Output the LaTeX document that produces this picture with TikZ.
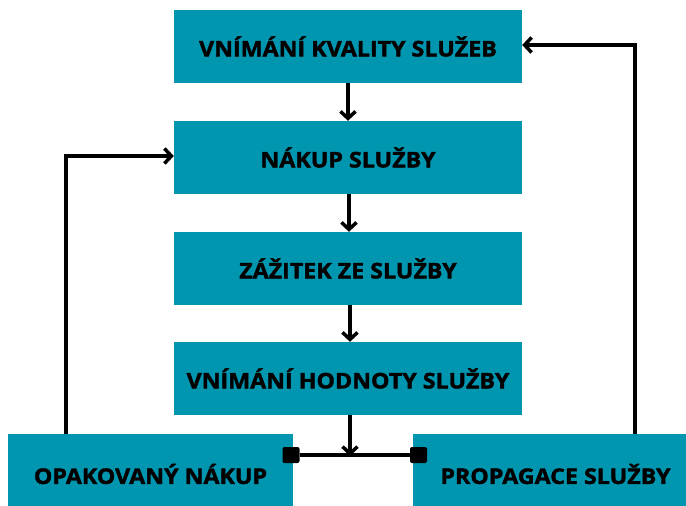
\documentclass[tikz,border=0pt]{standalone}
\usepackage{fontspec}
\setmainfont{Open Sans}[BoldFeatures={FakeBold=1.8, FakeStretch=1.08}]
\usetikzlibrary{arrows.meta}
\definecolor{boxteal}{HTML}{0096B0}
\tikzset{
  stage/.style={rectangle, fill=boxteal, minimum width=348pt, minimum height=73pt,
    inner sep=0pt, font=\fontsize{21.5}{26}\selectfont\bfseries, text=black},
  footbox/.style={stage, minimum width=285pt, minimum height=80pt},
  flow/.style={line width=3.5pt, -{Straight Barb[length=7pt,width=15pt]}},
  link/.style={line width=3.5pt},
  joint/.style={rectangle, fill=black, minimum width=17pt, minimum height=16pt,
    inner sep=0pt, rounded corners=2pt}
}
\begin{document}
\begin{tikzpicture}[x=1pt,y=-1pt]
  \useasboundingbox (0,0) rectangle (686,506);
  \begin{scope}
    \clip (0,0) rectangle (686,506);
    % main chain of stages
    \node[stage] (kvalita) at (348,46.5)  {VNÍMÁNÍ KVALITY SLUŽEB};
    \node[stage] (nakup)   at (348,157.5) {NÁKUP SLUŽBY};
    \node[stage] (zazitek) at (348,268.5) {ZÁŽITEK ZE SLUŽBY};
    \node[stage] (hodnota) at (348,378.5) {VNÍMÁNÍ HODNOTY SLUŽBY};
    % two outcomes at the bottom
    \node[footbox] (opak)  at (150.5,474) {OPAKOVANÝ NÁKUP};
    \node[footbox] (propag) at (555.5,474) {PROPAGACE SLUŽBY};
  \end{scope}
  % junction squares and split point
  \node[joint] (jl) at (291,455) {};
  \node[joint] (jr) at (418.5,455) {};
  \coordinate (split) at (350,455);
  % arrows down the chain
  \draw[flow] (kvalita.south) -- (nakup.north);
  \draw[flow] ([xshift=1pt]nakup.south) -- ([xshift=1pt]zazitek.north);
  \draw[flow] ([xshift=2pt]zazitek.south) -- ([xshift=2pt]hodnota.north);
  \draw[flow] ([xshift=2pt]hodnota.south) -- ([yshift=-1pt]split);
  \draw[link] (jl) -- (jr);
  % feedback loops
  \draw[flow] ([xshift=58pt]opak.north west) |- ([yshift=1.5pt]nakup.west);
  \draw[flow] ([xshift=222pt]propag.north west) |- ([yshift=1.5pt]kvalita.east);
\end{tikzpicture}
\end{document}
